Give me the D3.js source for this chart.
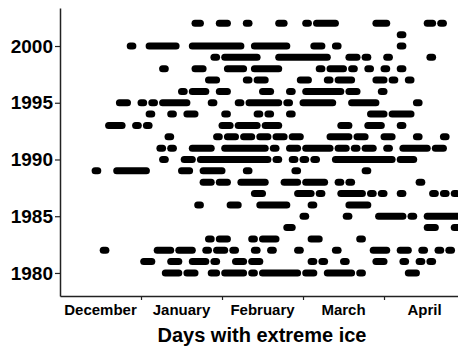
<!DOCTYPE html>
<html><head><meta charset="utf-8">
<script src="https://cdn.jsdelivr.net/npm/d3@7"></script>
<style>
html,body{margin:0;padding:0;background:#fff;}
svg{display:block;font-family:"Liberation Sans",Arial,sans-serif;font-weight:bold;}
</style></head>
<body><svg id="c" width="458" height="348"></svg>
<script>
// Days counted from 1 December (day 0); each run = [firstDay, lastDay] of extreme ice
const years = [1980,1981,1982,1983,1984,1985,1986,1987,1988,1989,1990,1991,1992,1993,1994,1995,1996,1997,1998,1999,2000,2001,2002];
const iceRuns = [
  [[39,43],[47,49],[56,57],[61,67],[71,71],[75,87],[91,93],[99,107],[111,111],[129,131]], // 1980
  [[31,33],[41,43],[49,53],[57,57],[65,67],[71,73],[93,93],[97,97],[105,105],[117,119],[127,127],[133,133],[137,137]], // 1981
  [[16,16],[36,40],[44,48],[54,54],[58,60],[64,64],[72,72],[78,78],[88,88],[102,102],[116,120],[126,128],[134,134],[140,140],[144,144]], // 1982
  [[55,55],[59,61],[71,71],[75,79],[93,95],[111,111]], // 1983
  [[84,85],[136,138],[146,148]], // 1984
  [[90,90],[106,106],[118,126],[130,130],[136,150]], // 1985
  [[51,51],[63,65],[74,83],[93,93],[107,113]], // 1986
  [[72,74],[88,92],[96,96],[104,111],[115,115],[119,119],[126,126],[138,138],[142,142],[146,146]], // 1987
  [[53,55],[59,61],[67,75],[83,87],[91,97],[103,103],[107,107],[133,133]], // 1988
  [[13,13],[21,31],[45,47],[53,59],[69,69],[87,87],[113,113]], // 1989
  [[38,38],[46,48],[52,76],[80,80],[86,86],[90,90],[94,94],[102,122],[126,130]], // 1990
  [[37,37],[41,41],[49,55],[61,75],[79,79],[85,87],[91,99],[103,105],[109,109],[113,115],[121,121],[127,135],[139,141]], // 1991
  [[40,40],[58,58],[62,64],[68,70],[74,76],[80,82],[86,88],[100,106],[110,112],[120,122],[132,132],[142,142]], // 1992
  [[18,22],[28,28],[32,32],[60,62],[66,72],[76,80],[104,106],[114,118],[126,126]], // 1993
  [[33,33],[41,41],[47,49],[61,61],[73,73],[77,77],[85,85],[115,119],[123,129]], // 1994
  [[22,24],[30,30],[34,34],[38,46],[56,56],[66,66],[70,80],[84,84],[90,100],[108,116],[132,132]], // 1995
  [[45,45],[49,53],[59,61],[75,77],[85,85],[91,103],[107,109],[119,119]], // 1996
  [[55,57],[69,69],[73,75],[89,91],[99,99],[103,107],[117,119],[123,123],[129,129]], // 1997
  [[38,38],[50,52],[62,67],[72,80],[96,96],[100,104],[108,108],[114,114],[120,120],[126,126]], // 1998
  [[57,57],[61,72],[81,98],[107,109],[113,113],[121,121],[137,137]], // 1999
  [[26,26],[33,42],[49,66],[72,83],[94,96],[102,102],[126,126]], // 2000
  [[126,126]], // 2001
  [[50,51],[59,61],[69,69],[81,82],[91,91],[95,101],[117,120],[136,137],[141,141]] // 2002
];
const yearTicks = [1980,1985,1990,1995,2000];
const monthNames = ["December","January","February","March","April"];
const monthStarts = [0,30,60,90,120];
const xTitle = "Days with extreme ice";

const svg = d3.select("#c");
const x = d3.scaleLinear().domain([0,147.4]).range([60,458]);
const y = d3.scaleLinear().domain([1977.97,2003.35]).range([296,8]);

// marks
const rows = svg.append("g").selectAll("g").data(years).join("g");
rows.selectAll("line").data((yr,i)=>iceRuns[i].map(r=>({yr,s:r[0],e:r[1]}))).join("line")
  .attr("x1",d=>x(d.s)).attr("x2",d=>x(d.e+1))
  .attr("y1",d=>y(d.yr)).attr("y2",d=>y(d.yr))
  .attr("stroke","#000").attr("stroke-width",7).attr("stroke-linecap","round");

// y axis
const ya = svg.append("g").attr("transform","translate(60,0)")
  .call(d3.axisLeft(y).tickValues(yearTicks).tickFormat(d3.format("d")).tickSize(5).tickSizeOuter(0));
ya.select(".domain").attr("stroke","#222").attr("stroke-width",1.5);
ya.selectAll(".tick line").attr("stroke","#222").attr("stroke-width",1.2);
ya.selectAll(".tick text").attr("font-size",19).attr("font-weight","bold").attr("fill","#000")
  .attr("font-family","Liberation Sans, Arial, sans-serif").attr("x",-7);

// x axis
const xa = svg.append("g").attr("transform","translate(0,296)")
  .call(d3.axisBottom(x).tickValues(monthStarts.slice(1)).tickFormat("").tickSize(4).tickSizeOuter(0));
xa.select(".domain").attr("stroke","#222").attr("stroke-width",1.5);
xa.selectAll(".tick line").attr("stroke","#222").attr("stroke-width",1.2);

svg.append("g").selectAll("text").data(monthNames).join("text")
  .attr("x",(d,i)=>x(monthStarts[i]+15)).attr("y",315)
  .attr("text-anchor","middle").attr("font-size",15).attr("fill","#000").text(d=>d);

svg.append("text").attr("x",262).attr("y",342).attr("text-anchor","middle")
  .attr("font-size",20).attr("fill","#000").text(xTitle);
</script></body></html>
